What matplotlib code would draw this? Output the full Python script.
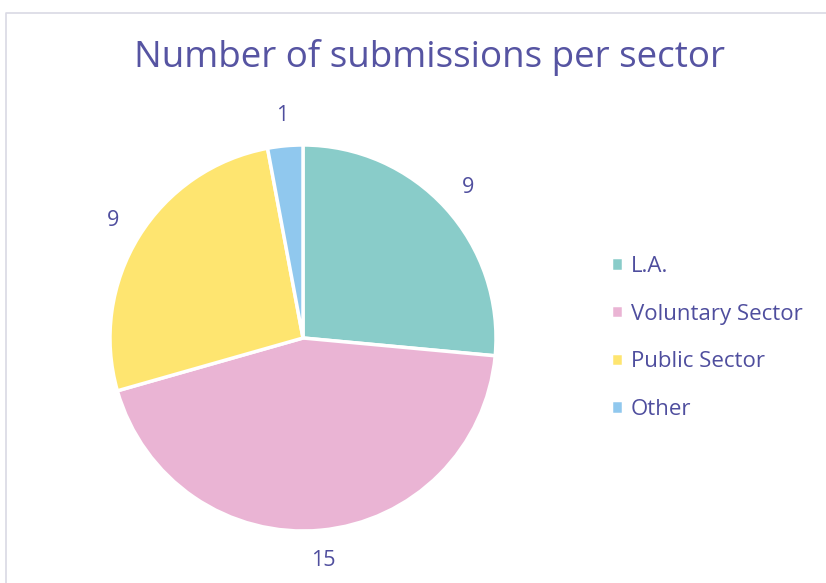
import matplotlib
matplotlib.use("Agg")
import matplotlib.pyplot as plt
from matplotlib.lines import Line2D

# data
sectors = ["L.A.", "Voluntary Sector", "Public Sector", "Other"]
counts = [9, 15, 9, 1]
colors = ["#89CCC9", "#EAB4D4", "#FEE570", "#90C8EE"]

TEXT_COLOR = "#4F4E9E"
W, H = 826, 583

plt.rcParams['font.family'] = ['Open Sans', 'DejaVu Sans']

fig = plt.figure(figsize=(W / 100, H / 100), dpi=100)

# border (top and left edges visible)
fig.add_artist(Line2D([6 / W, 6 / W, 1.0], [0.0, 1 - 13 / H, 1 - 13 / H],
                      transform=fig.transFigure, color="#D9D9E4", lw=1.2))

# pie axes: center (303, 338) px, radius 193 px
cx, cy, r = 303, 338, 193
ax = fig.add_axes([(cx - r) / W, 1 - (cy + r) / H, 2 * r / W, 2 * r / H])
wedges, texts = ax.pie(
    counts,
    colors=colors,
    labels=[str(c) for c in counts],
    startangle=90,
    counterclock=False,
    labeldistance=1.16,
    wedgeprops=dict(edgecolor="white", linewidth=2.5),
    textprops=dict(color=TEXT_COLOR, fontsize=15.5),
)
for t in texts:
    t.set_horizontalalignment("center")
    t.set_verticalalignment("center")
ax.set_xlim(-1, 1)
ax.set_ylim(-1, 1)
ax.set_aspect("equal")

fig.text(429 / W, 1 - 58 / H, "Number of submissions per sector",
         ha="center", va="center", fontsize=26.5, color="#5654A2")

leg = fig.legend(
    wedges, sectors,
    loc="center left",
    bbox_to_anchor=(611 / W, 1 - 338 / H),
    frameon=False,
    borderpad=0,
    borderaxespad=0,
    fontsize=16,
    handlelength=0.55,
    handleheight=0.55,
    handletextpad=0.35,
    labelspacing=1.2,
)
for t in leg.get_texts():
    t.set_color(TEXT_COLOR)

plt.savefig("out.png", dpi=100)
plt.close("all")
